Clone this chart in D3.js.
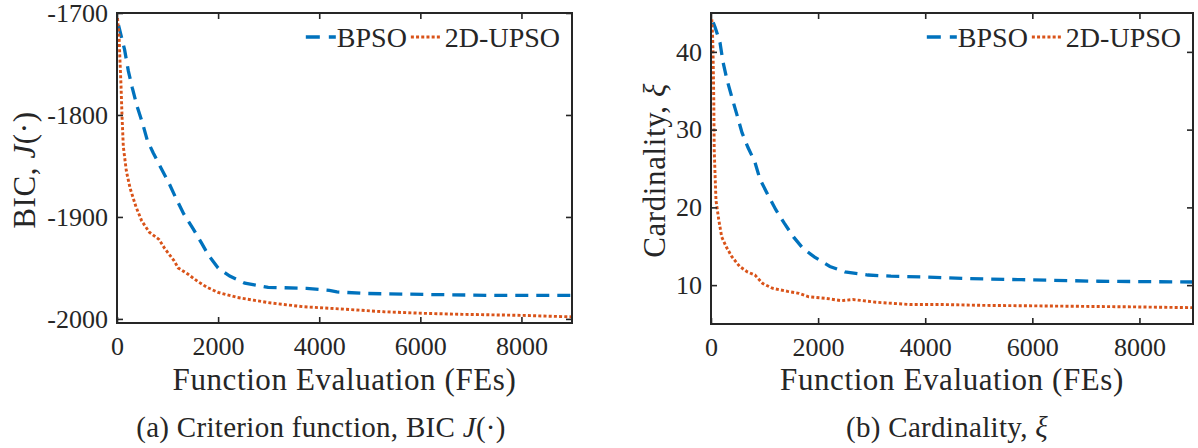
<!DOCTYPE html>
<html><head><meta charset="utf-8">
<script src="https://cdn.jsdelivr.net/npm/d3@7"></script>
<style>
html,body{margin:0;padding:0;background:#fff;}
svg{display:block;}
text{font-family:"Liberation Serif","Times New Roman",serif;fill:#262626;}
</style></head>
<body>
<svg id="chart" width="1198" height="448"></svg>
<script>
// ---------- data ----------
const seriesNames = ["BPSO", "2D-UPSO"];
const xTicks = [0, 2000, 4000, 6000, 8000];
const bicTicks = [-2000, -1900, -1800, -1700];
const cardTicks = [10, 20, 30, 40];

// (a) BIC J(.)
const bpsoBicFE = [30,150,225,300,400,505,600,715,870,1020,1170,1320,1510,1665,1815,2000,2230,2530,2990,3750,4200,4350,4885,6060,7580,9000];
const bpsoBic   = [-1712,-1736,-1757,-1773,-1792,-1808,-1825,-1837,-1852,-1866,-1882,-1897,-1912,-1925,-1938,-1950,-1958,-1965,-1969,-1970,-1972,-1973.5,-1975,-1976,-1977,-1977];
const upsoBicFE = [10,40,60,80,100,125,185,260,375,490,640,830,945,1130,1210,1400,1590,1780,2000,2385,2990,3670,4510,5285,6060,6830,8000,9000];
const upsoBic   = [-1705,-1722,-1748,-1772,-1802,-1831,-1855,-1872,-1890,-1904,-1915,-1922,-1931,-1943,-1950,-1956,-1963,-1969,-1974,-1979,-1984,-1988,-1990.5,-1993,-1994.5,-1995.5,-1996.5,-1998];

// (b) Cardinality xi
const bpsoCardFE = [40,75,168,224,299,392,485,579,691,821,915,1064,1210,1365,1540,1720,1935,2220,2500,2930,3360,4010,4720,5800,7230,9000];
const bpsoCard   = [43.8,43.2,41.2,38.7,36.4,34.1,31.9,29.6,27.7,25.8,23.6,21.6,19.7,18,16.2,14.7,13.6,12.4,11.7,11.3,11.15,11.05,10.85,10.7,10.5,10.4];
const upsoCardFE = [15,30,37,45,52,60,75,93,145,200,287,390,535,680,820,967,1145,1430,1640,1825,2145,2435,2650,3080,3715,4350,5060,6490,7920,9000];
const upsoCard   = [44.2,42,40.2,37,33.8,27.4,24.4,20.9,18.4,16.2,14.9,13.65,12.4,11.7,11.3,10.2,9.6,9.2,8.95,8.5,8.3,8.0,8.15,7.8,7.5,7.5,7.4,7.3,7.2,7.1];

// ---------- drawing ----------
const svg = d3.select("#chart");
const AX = "#262626";
const colors = {BPSO: "#0072BD", "2D-UPSO": "#D95319"};

const panels = [
  {id:"a", left:117, right:572, top:13, bottom:323, ydom:[-2004,-1700], yticks:bicTicks,
   series:[[bpsoBicFE,bpsoBic],[upsoBicFE,upsoBic]],
   ylabel:[["BIC, ",false],["J",true],["(·)",false]], ylabX:35,
   caption:[["(a) Criterion function, BIC ",false],["J",true],["(·)",false]], capX:321},
  {id:"b", left:711, right:1193, top:13, bottom:324, ydom:[5,45], yticks:cardTicks,
   series:[[bpsoCardFE,bpsoCard],[upsoCardFE,upsoCard]],
   ylabel:[["Cardinality, ",false],["ξ",true]], ylabX:665,
   caption:[["(b) Cardinality, ",false],["ξ",true]], capX:947}
];

panels.forEach(p => {
  const x = d3.scaleLinear().domain([0, 9000]).range([p.left, p.right]);
  const y = d3.scaleLinear().domain(p.ydom).range([p.bottom, p.top]);
  const g = svg.append("g");
  const W = p.right - p.left, H = p.bottom - p.top;

  g.append("clipPath").attr("id", "clip" + p.id)
    .append("rect").attr("x", p.left).attr("y", p.top).attr("width", W).attr("height", H);

  // lines
  const line = d3.line().x(d => x(d[0])).y(d => y(d[1]));
  p.series.forEach((s, i) => {
    const pts = s[0].map((fe, k) => [fe, s[1][k]]);
    const name = seriesNames[i];
    g.append("path").datum(pts)
      .attr("clip-path", "url(#clip" + p.id + ")")
      .attr("fill", "none")
      .attr("stroke", colors[name])
      .attr("stroke-width", i === 0 ? 3.3 : 2.9)
      .attr("stroke-dasharray", i === 0 ? "13,8" : "3,2.2")
      .attr("d", line);
  });

  // axes with inward ticks on all sides
  const tickLen = 6;
  const axB = d3.axisBottom(x).tickValues(xTicks).tickSize(-tickLen).tickPadding(14).tickFormat(d3.format("d"));
  const axT = d3.axisTop(x).tickValues(xTicks).tickSize(-tickLen).tickFormat("");
  const axL = d3.axisLeft(y).tickValues(p.yticks).tickSize(-tickLen).tickPadding(9).tickFormat(d => String(d));
  const axR = d3.axisRight(y).tickValues(p.yticks).tickSize(-tickLen).tickFormat("");

  const styleAxis = sel => {
    sel.select(".domain").remove();
    sel.selectAll(".tick line").attr("stroke", AX).attr("stroke-width", 1.6);
    sel.selectAll(".tick text").attr("fill", AX).style("font-size", "26px")
      .style("font-family", '"Liberation Serif", serif');
  };
  g.append("g").attr("transform", `translate(0,${p.bottom})`).call(axB).call(styleAxis)
    .selectAll(".tick text").attr("dy", "0.71em");
  g.append("g").attr("transform", `translate(0,${p.top})`).call(axT).call(styleAxis);
  g.append("g").attr("transform", `translate(${p.left},0)`).call(axL).call(styleAxis);
  g.append("g").attr("transform", `translate(${p.right},0)`).call(axR).call(styleAxis);

  // frame
  g.append("rect").attr("x", p.left).attr("y", p.top).attr("width", W).attr("height", H)
    .attr("fill", "none").attr("stroke", AX).attr("stroke-width", 2);

  // x axis title
  g.append("text").attr("x", (p.left + p.right) / 2).attr("y", 390)
    .attr("text-anchor", "middle").style("font-size", "31px").style("letter-spacing", "0.6px")
    .text("Function Evaluation (FEs)");

  // y axis title
  const yt = g.append("text")
    .attr("transform", `translate(${p.ylabX},${(p.top + p.bottom) / 2 + 2}) rotate(-90)`)
    .attr("text-anchor", "middle").style("font-size", "31px").style("letter-spacing", "0.6px");
  p.ylabel.forEach(([t, it]) => yt.append("tspan").style("font-style", it ? "italic" : "normal").text(t));

  // caption
  const ct = g.append("text").attr("x", p.capX).attr("y", 437)
    .attr("text-anchor", "middle").style("font-size", "29px").style("letter-spacing", "0.3px");
  p.caption.forEach(([t, it]) => ct.append("tspan").style("font-style", it ? "italic" : "normal").text(t));

  // legend (no box), right-aligned inside top of axes
  const lg = g.append("g");
  const ly = 37, fs = 28;
  const t2 = lg.append("text").attr("y", ly).attr("dy", "0.35em").style("font-size", fs + "px").text(seriesNames[1]);
  const w2 = t2.node().getComputedTextLength();
  const x2 = p.right - 12 - w2;
  t2.attr("x", x2);
  const s2x1 = x2 - 4, s2x0 = s2x1 - 30;
  lg.append("line").attr("x1", s2x0).attr("x2", s2x1).attr("y1", ly).attr("y2", ly)
    .attr("stroke", colors["2D-UPSO"]).attr("stroke-width", 2.9).attr("stroke-dasharray", "3,2.2");
  const t1 = lg.append("text").attr("y", ly).attr("dy", "0.35em").style("font-size", fs + "px").text(seriesNames[0]);
  const w1 = t1.node().getComputedTextLength();
  const x1 = s2x0 - 4 - w1;
  t1.attr("x", x1);
  const s1x1 = x1 - 1, s1x0 = s1x1 - 30;
  lg.append("line").attr("x1", s1x0).attr("x2", s1x1).attr("y1", ly).attr("y2", ly)
    .attr("stroke", colors["BPSO"]).attr("stroke-width", 3.3).attr("stroke-dasharray", "14,9");
});
</script>
</body></html>
